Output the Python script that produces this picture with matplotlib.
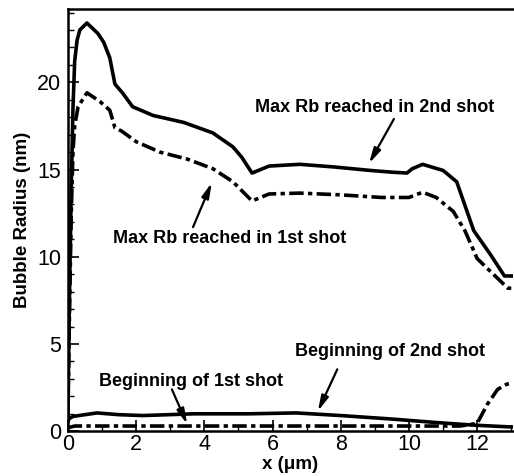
import numpy as np
import matplotlib.pyplot as plt
from matplotlib.ticker import MultipleLocator

plt.rcParams['font.family'] = ['Liberation Sans', 'DejaVu Sans']

# Max Rb reached in 2nd shot (solid)
x_max2 = [0, 0.05, 0.1, 0.15, 0.2, 0.27, 0.35, 0.56, 0.88, 1.05, 1.23, 1.38, 1.6, 1.9, 2.5,
          3.4, 4.25, 4.84, 5.1, 5.4, 5.9, 6.8, 7.8, 8.86, 9.5, 9.94, 10.1, 10.4, 11.0, 11.4,
          11.9, 12.4, 12.8, 13.0]
y_max2 = [1.0, 8.0, 14.0, 18.5, 21.2, 22.4, 23.0, 23.4, 22.8, 22.3, 21.4, 19.9, 19.4, 18.6, 18.1,
          17.7, 17.1, 16.3, 15.7, 14.8, 15.2, 15.3, 15.15, 14.95, 14.85, 14.8, 15.05, 15.3, 14.95, 14.3,
          11.5, 10.1, 8.9, 8.9]

# Max Rb reached in 1st shot (dashed)
x_max1 = [0, 0.05, 0.1, 0.15, 0.2, 0.3, 0.56, 0.94, 1.23, 1.38, 1.58, 2.0, 2.7, 3.5, 4.25,
          4.84, 5.4, 5.9, 6.8, 8.0, 9.2, 10.0, 10.4, 10.8, 11.3, 11.64, 12.0, 12.58, 12.9, 13.0]
y_max1 = [0.5, 7.0, 12.5, 16.0, 17.5, 18.6, 19.4, 18.9, 18.4, 17.4, 17.2, 16.6, 16.0, 15.6, 15.05,
          14.3, 13.2, 13.6, 13.65, 13.55, 13.4, 13.4, 13.7, 13.4, 12.6, 11.5, 9.9, 8.8, 8.2, 8.2]

# Beginning of 2nd shot (solid)
x_beg2 = [0, 0.06, 0.15, 0.85, 1.5, 2.2, 3.7, 5.3, 6.7, 8.0, 9.5, 10.8, 11.9, 12.96, 13.0]
y_beg2 = [0.6, 0.75, 0.85, 1.05, 0.95, 0.9, 1.0, 1.0, 1.05, 0.9, 0.7, 0.5, 0.35, 0.25, 0.25]

# Beginning of 1st shot (dashed)
x_beg1 = [0, 0.2, 2.0, 4.0, 6.0, 8.0, 10.0, 11.5, 12.0, 12.3, 12.6, 12.87, 13.0]
y_beg1 = [0.2, 0.3, 0.3, 0.3, 0.3, 0.3, 0.3, 0.3, 0.45, 1.55, 2.4, 2.7, 2.75]

x_ticks = [0, 2, 4, 6, 8, 10, 12]
y_ticks = [0, 5, 10, 15, 20]

fig = plt.figure(figsize=(5.14, 4.76), dpi=100)
ax = fig.add_axes([0.132, 0.094, 0.866, 0.887])

dash = (0, (4, 1.2, 1.2, 1.2))
ax.plot(x_max2, y_max2, color='black', lw=2.6, solid_joinstyle='round')
ax.plot(x_max1, y_max1, color='black', lw=2.6, linestyle=dash)
ax.plot(x_beg2, y_beg2, color='black', lw=2.6)
ax.plot(x_beg1, y_beg1, color='black', lw=2.6, linestyle=dash)

ax.set_xlim(0, 13.05)
ax.set_ylim(0, 24.2)
ax.set_xticks(x_ticks)
ax.set_yticks(y_ticks)
ax.xaxis.set_minor_locator(MultipleLocator(1))
ax.yaxis.set_minor_locator(MultipleLocator(1))
ax.tick_params(which='major', direction='in', length=8, width=1.2, labelsize=15.5)
ax.tick_params(axis='y', which='major', pad=5)
ax.tick_params(axis='x', which='major', pad=2)
ax.tick_params(which='minor', direction='in', length=4, width=1)
ax.spines['right'].set_visible(False)
for s in ['left', 'bottom', 'top']:
    ax.spines[s].set_linewidth(1.8)

ax.set_xlabel('x (μm)', fontsize=13.5, fontweight='bold', labelpad=1)
ax.set_ylabel('Bubble Radius (nm)', fontsize=13.5, fontweight='bold', labelpad=4)

arrow = dict(arrowstyle='-|>,head_length=0.9,head_width=0.22', color='black', lw=1.6,
             shrinkA=0, shrinkB=0)
fs = 13
ax.text(9.0, 18.56, 'Max Rb reached in 2nd shot', ha='center', va='center',
        fontsize=fs, fontweight='bold')
ax.annotate('', xy=(8.83, 15.35), xytext=(9.56, 17.9), arrowprops=arrow)
ax.text(4.75, 11.05, 'Max Rb reached in 1st shot', ha='center', va='center',
        fontsize=fs, fontweight='bold')
ax.annotate('', xy=(4.22, 14.25), xytext=(3.67, 11.7), arrowprops=arrow)
ax.text(3.6, 2.87, 'Beginning of 1st shot', ha='center', va='center',
        fontsize=fs, fontweight='bold')
ax.annotate('', xy=(3.5, 0.4), xytext=(3.05, 2.4), arrowprops=arrow)
ax.text(9.44, 4.6, 'Beginning of 2nd shot', ha='center', va='center',
        fontsize=fs, fontweight='bold')
ax.annotate('', xy=(7.33, 1.15), xytext=(7.9, 3.55), arrowprops=arrow)

fig.savefig('out.png', dpi=100)
